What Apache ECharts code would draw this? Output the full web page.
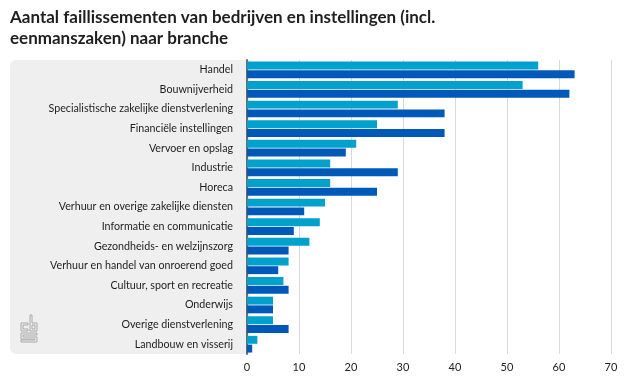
<!DOCTYPE html>
<html>
<head>
<meta charset="utf-8">
<script src="https://cdn.jsdelivr.net/npm/echarts@6/dist/echarts.min.js"></script>
<style>html,body{margin:0;padding:0;background:#fff}#c{width:626px;height:384px}</style>
</head>
<body>
<div id="c"></div>
<script>
const titleLines = ['Aantal faillissementen van bedrijven en instellingen (incl.', 'eenmanszaken) naar branche'];
const categories = [
  'Handel', 'Bouwnijverheid', 'Specialistische zakelijke dienstverlening', 'Financiële instellingen',
  'Vervoer en opslag', 'Industrie', 'Horeca', 'Verhuur en overige zakelijke diensten',
  'Informatie en communicatie', 'Gezondheids- en welzijnszorg', 'Verhuur en handel van onroerend goed',
  'Cultuur, sport en recreatie', 'Onderwijs', 'Overige dienstverlening', 'Landbouw en visserij'
];
const seriesLight = [56, 53, 29, 25, 21, 16, 16, 15, 14, 12, 8, 7, 5, 5, 2];
const seriesDark  = [63, 62, 38, 38, 19, 29, 25, 11, 9, 8, 6, 8, 5, 8, 1];
const xTicks = [0, 10, 20, 30, 40, 50, 60, 70];

const chart = echarts.init(document.getElementById('c'), null, {renderer: 'canvas'});
const FONT = 'Lato';
const gray = '#a8a8a8';
const logo = [
  // c
  {type: 'polyline', shape: {points: [[28,323],[21,323],[21,331],[28,331],[28,329],[23,329],[23,325],[28,325],[28,323]]}},
  // b
  {type: 'polyline', shape: {points: [[30,315],[32,315],[32,323],[37,323],[37,331],[30,331],[30,315]]}},
  {type: 'rect', shape: {x: 32, y: 325, width: 3, height: 4}},
  // s
  {type: 'polyline', shape: {points: [[21,333],[37,333],[37,335],[23,335],[23,337],[37,337],[37,342],[21,342],[21,340],[35,340],[35,339],[21,339],[21,333]]}}
].map(e => Object.assign(e, {style: {fill: 'none', stroke: gray, lineWidth: 1}, z: 1, silent: true}));

chart.setOption({
  animation: false,
  textStyle: {fontFamily: FONT},
  graphic: [
    {type: 'rect', shape: {x: 10, y: 60, width: 240, height: 294, r: [6, 0, 0, 6]}, style: {fill: '#efefef'}, z: 0, silent: true},
    {type: 'text', left: 10, top: 7, style: {text: titleLines.join('\n'), font: 'bold 17px ' + FONT, fill: '#1e1e1e', lineHeight: 21}, z: 5},
    ...logo
  ],
  grid: {left: 247, right: 15, top: 60, bottom: 30, containLabel: false},
  xAxis: {
    type: 'value', min: 0, max: 70, interval: 10,
    axisLine: {show: false}, axisTick: {show: false},
    axisLabel: {color: '#222', fontSize: 11, fontFamily: FONT, margin: 8, formatter: v => xTicks.includes(v) ? String(v) : ''},
    splitLine: {lineStyle: {color: '#d9d9d9', width: 1}}
  },
  yAxis: {
    type: 'category', data: categories, inverse: true,
    axisLine: {show: true, lineStyle: {color: '#6b6b6b', width: 2}},
    axisTick: {show: false},
    axisLabel: {color: '#1e1e1e', fontSize: 10.7, fontFamily: FONT, margin: 14}
  },
  series: [
    {name: 'Licht', type: 'bar', data: seriesLight, itemStyle: {color: '#00a1cd'}, barGap: '10%', barCategoryGap: '15%', z: 3},
    {name: 'Donker', type: 'bar', data: seriesDark, itemStyle: {color: '#0058b8'}, z: 3}
  ]
});
</script>
</body>
</html>
